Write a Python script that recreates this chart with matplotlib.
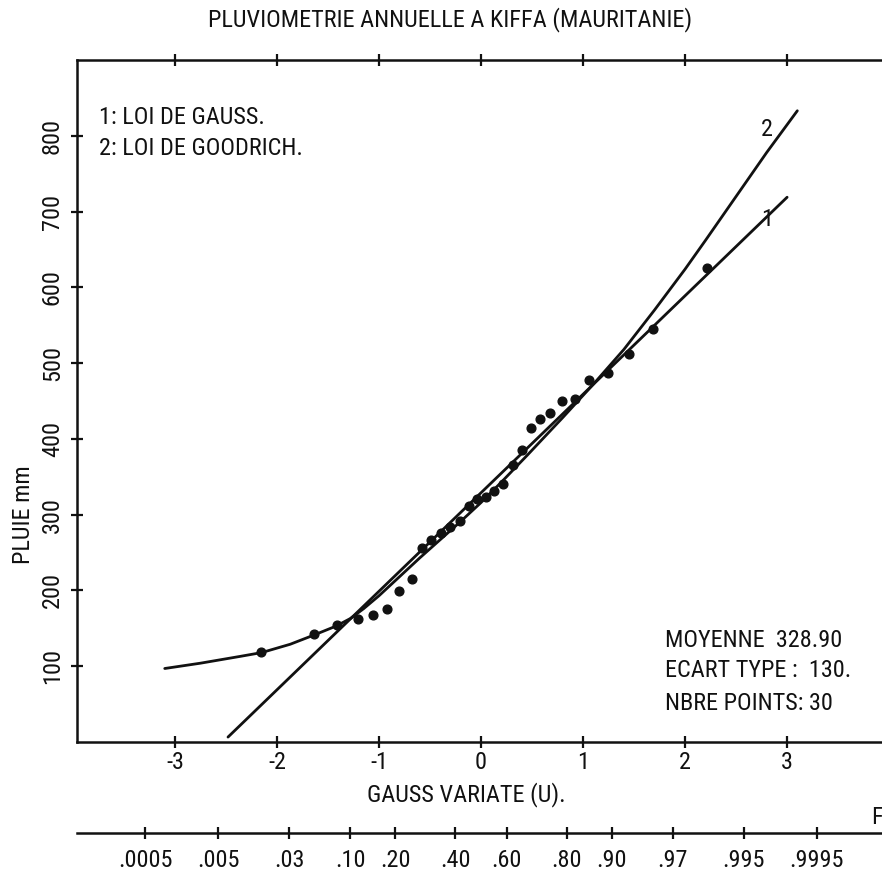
import matplotlib
matplotlib.use("Agg")
import matplotlib.pyplot as plt
from matplotlib import font_manager
from statistics import NormalDist

# Annual rainfall at Kiffa, sorted, against the Gauss variate (plotting positions)
gauss_u = [-2.16, -1.64, -1.41, -1.21, -1.06, -0.92, -0.80, -0.68, -0.58, -0.49,
           -0.39, -0.30, -0.21, -0.12, -0.04, 0.05, 0.13, 0.22, 0.31, 0.40,
           0.49, 0.58, 0.68, 0.79, 0.92, 1.06, 1.24, 1.45, 1.69, 2.21]
rain_mm = [119, 143, 154, 162, 168, 175, 199, 215, 256, 266,
           276, 284, 292, 311, 321, 323, 331, 340, 366, 385,
           415, 426, 434, 450, 452, 478, 487, 512, 545, 626]

# Fitted laws
mean_mm = 328.90
std_mm = 130.0
n_points = 30
gauss_span = [-2.48, 3.00]

goodrich_u = [-3.10, -2.75, -2.36, -2.15, -1.87, -1.64, -1.42, -1.28, -1.15, -1.00,
              -0.80, -0.60, -0.40, -0.20, 0.00, 0.20, 0.45, 0.80, 1.10, 1.40,
              1.70, 2.00, 2.20, 2.50, 2.80, 3.10]
goodrich_mm = [97, 104, 113, 118, 129, 141, 153, 163, 176, 193,
               218, 243, 267, 291, 316, 343, 378, 428, 472, 518,
               570, 624, 662, 720, 778, 833]

u_ticks = [-3, -2, -1, 0, 1, 2, 3]
u_tick_labels = ["-3", "-2", "-1", "0", "1", "2", "3"]
mm_ticks = [100, 200, 300, 400, 500, 600, 700, 800]
freq_labels = [".0005", ".005", ".03", ".10", ".20", ".40", ".60", ".80", ".90", ".97", ".995", ".9995"]

# Font: a narrow sans to imitate the pen-plotter lettering
available = {f.name for f in font_manager.fontManager.ttflist}
FONT = "DejaVu Sans"
for cand in ["Liberation Sans Narrow", "Roboto Condensed", "Open Sans Condensed"]:
    if cand in available:
        FONT = cand
        break
plt.rcParams["font.family"] = [FONT, "DejaVu Sans"]
plt.rcParams["axes.unicode_minus"] = False
FS = 17.5
INK = "#111111"

W, H = 882, 876
fig = plt.figure(figsize=(W / 100, H / 100), dpi=100)
ax = fig.add_axes([77 / W, 1 - 742 / H, 805 / W, 682 / H])
ax.set_xlim(-3.96, 3.93)
ax.set_ylim(0, 900)

for side in ["left", "top", "bottom"]:
    ax.spines[side].set_linewidth(1.8)
    ax.spines[side].set_color(INK)
ax.spines["right"].set_visible(False)

ax.set_xticks(u_ticks, labels=u_tick_labels)
ax.set_yticks(mm_ticks, labels=[str(v) for v in mm_ticks])
ax.tick_params(axis="both", direction="inout", length=9, width=1.6, colors=INK,
               labelsize=FS)
ax.tick_params(axis="x", top=True, labeltop=False, pad=2)
ax.tick_params(axis="y", right=False, labelrotation=90, pad=5)
for lab in ax.get_yticklabels():
    lab.set_verticalalignment("center")

# Law 1: Gauss (straight line from mean and standard deviation)
g_y = [mean_mm + std_mm * u for u in gauss_span]
ax.plot(gauss_span, g_y, color=INK, lw=2.0, solid_capstyle="round")
# Law 2: Goodrich
ax.plot(goodrich_u, goodrich_mm, color=INK, lw=2.0, solid_capstyle="round",
        solid_joinstyle="round")
# Observations
ax.plot(gauss_u, rain_mm, "o", color=INK, ms=6.3, mec=INK)

ax.text(2.80, 808, "2", fontsize=FS, color=INK, ha="center", va="center")
ax.text(2.80, 690, "1", fontsize=FS, color=INK, ha="center", va="center")

ax.text(-3.74, 824, "1: LOI DE GAUSS.", fontsize=FS, color=INK, ha="left", va="center")
ax.text(-3.74, 783, "2: LOI DE GOODRICH.", fontsize=FS, color=INK, ha="left", va="center")

ax.text(1.80, 134, f"MOYENNE  {mean_mm:.2f}", fontsize=FS, color=INK, ha="left", va="center")
ax.text(1.80, 95, f"ECART TYPE :  {std_mm:.0f}.", fontsize=FS, color=INK, ha="left", va="center")
ax.text(1.80, 51, f"NBRE POINTS: {n_points}", fontsize=FS, color=INK, ha="left", va="center")

# Frequency scale aligned with the Gauss variate
nd = NormalDist()
freq_pos = [nd.inv_cdf(float("0" + f)) for f in freq_labels]
sec = ax.secondary_xaxis((742 - 833) / 682)
sec.set_alignment("bottom")
sec.set_xticks(freq_pos, labels=freq_labels)
sec.tick_params(direction="inout", length=9, width=1.6, colors=INK, labelsize=FS, pad=7)
for s in sec.spines.values():
    s.set_linewidth(1.8)
    s.set_color(INK)

def fx(x):
    return x / W

def fy(y):
    return 1 - y / H

fig.text(fx(450), fy(20), "PLUVIOMETRIE ANNUELLE A KIFFA (MAURITANIE)", fontsize=FS,
         color=INK, ha="center", va="center")
fig.text(fx(466), fy(795), "GAUSS VARIATE (U).", fontsize=FS, color=INK,
         ha="center", va="center")
fig.text(fx(24), fy(515), "PLUIE mm", fontsize=FS, color=INK, rotation=90,
         ha="center", va="center")
fig.text(fx(871), fy(818), "F", fontsize=FS, color=INK, ha="left", va="center")

fig.savefig("out.png", dpi=100, facecolor="white")
